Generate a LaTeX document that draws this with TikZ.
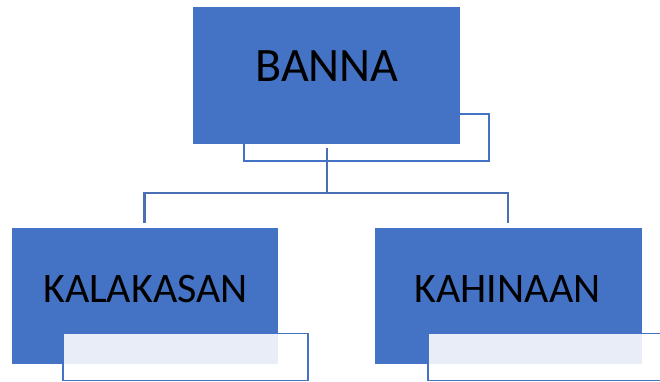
\documentclass[tikz,border=0pt]{standalone}
\usepackage{fontspec}
\setmainfont{Carlito}
\definecolor{boxblue}{HTML}{4472C4}
\definecolor{linkblue}{HTML}{4A6FB5}
\begin{document}
\begin{tikzpicture}[x=1pt,y=1pt,
  mainbox/.style={draw=boxblue,fill=boxblue,line width=0.8pt,minimum width=#1,minimum height=135pt,inner sep=0pt,outer sep=0pt},
  subbox/.style={draw=boxblue,fill=white,line width=1.6pt,minimum width=245pt,minimum height=47pt,inner sep=0pt,outer sep=0pt},
  frontsub/.style={subbox,fill opacity=0.88},
  toptext/.style={font=\fontsize{48}{48}\selectfont,anchor=base,inner sep=0pt},
  subtext/.style={font=\fontsize{42}{42}\selectfont,anchor=base,inner sep=0pt},
  link/.style={draw=linkblue,line width=2.4pt}]
\useasboundingbox (0,0) rectangle (660,381);
\begin{scope}
\clip (0,0) rectangle (660,381);
% top
\node[subbox] (tsub) at (366.5,243.5) {};
\node[mainbox=266pt,minimum height=136pt] (banna) at (326,306) {};
\node[toptext] (tb) at (327,299) {BANNA};
% left
\node[mainbox=265pt] (kal) at (144.5,85.5) {};
\node[subtext] (tk) at (145.5,79) {KALAKASAN};
\node[frontsub] (ksub) at (185.5,24) {};
% right
\node[mainbox=266pt] (kah) at (508,85.5) {};
\node[subtext] (th) at (507.5,79) {KAHINAAN};
\node[frontsub] (hsub) at (550.5,24) {};
% connectors
\coordinate (bus) at (327,188);
\draw[link,shorten <=5pt] (banna.south -| bus) -- (bus);
\draw[link,shorten >=5pt] (bus) -| (kal.north);
\draw[link,shorten >=5pt] (bus) -| (kah.north);
\end{scope}
\end{tikzpicture}
\end{document}
